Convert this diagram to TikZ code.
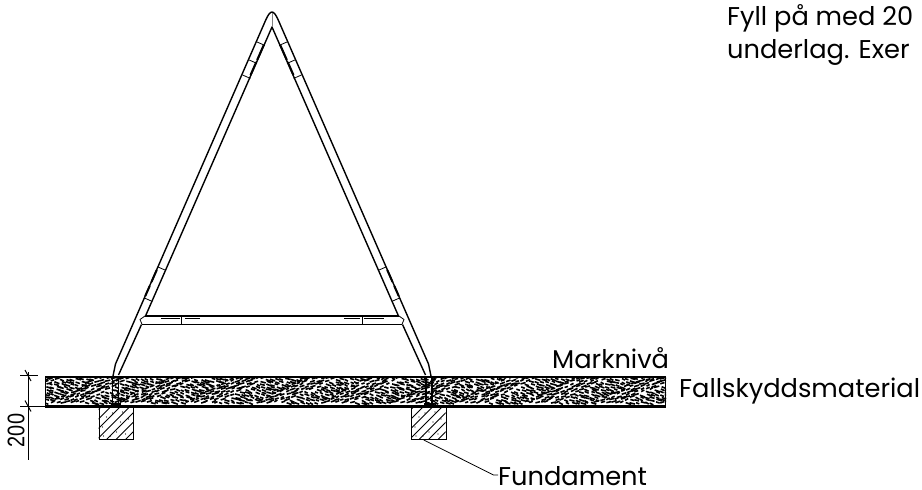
\documentclass[tikz,border=0pt]{standalone}
\usepackage{fontspec}
\setmainfont{Poppins}
\usetikzlibrary{calc}
\tikzset{
  x=1pt,y=-1pt,
  lbl/.style={inner sep=0pt,anchor=base west,font=\fontsize{25.7}{26}\selectfont},
  ln/.style={line width=1.4pt,black},
  thin ln/.style={line width=.8pt,black},
  tick/.style={line width=.8pt,black},
  thick seg/.style={line width=2pt,black},
}
\begin{document}
\begin{tikzpicture}
\useasboundingbox (0,0) rectangle (922,490);
% band
\fill[white] (45,376) rectangle (666,407);
\begin{scope}
\clip (45,376) rectangle (666,407);
\pgfmathsetseed{11}
\foreach \r in {379,381.6,...,405}{
  \foreach \c in {44,49,...,666}{
    \pgfmathsetmacro{\xa}{\c+rnd*3}
    \pgfmathsetmacro{\ya}{\r+rnd*1.6-.8}
    \pgfmathsetmacro{\dx}{3+rnd*2.5}
    \pgfmathtruncatemacro{\band}{mod(floor((\c+2*\r)/34),2)}
    \pgfmathsetmacro{\dy}{(\band==0?1:-1)*(1+rnd*1)}
    \draw[black,line width=1.6pt] (\xa,\ya) -- ++(\dx,\dy);
  }
}
\end{scope}
\fill (45,375.5) rectangle (666,378.2);
\fill (45,405) rectangle (666,407.5);
\fill (45,376) rectangle (46.3,407);
\fill (664.8,376) rectangle (666,407);
% posts
\foreach \c in {115.5,429}{
  \draw[line width=1.9pt] (\c-3,376) -- (\c-3,406);
  \draw[line width=1.9pt] (\c+3,376) -- (\c+3,406);
  \fill (\c-5,403) rectangle (\c+5,407);
}
% foundations
\foreach \xl/\nm in {98.5/fa,411/fb}{
  \node[draw,line width=1pt,minimum width=34.5pt,minimum height=32pt,inner sep=0pt,anchor=north west,fill=white] (\nm) at (\xl,407) {};
  \begin{scope}
    \clip (\xl,407) rectangle ++(34.5,32);
    \foreach \s in {-38,-28.5,...,40}{
      \draw[line width=.8pt] (\xl+\s-3,441) -- (\xl+\s+33,405);
    }
    \foreach \a/\b in {4/20,12/29,22/15,27/27,8/10,18/25,30/12,5/29,24/5,14/6}{
      \fill (\xl+\a,407+\b) circle (.6);
    }
  \end{scope}
}
% legs
\draw[ln,line join=round]
  (113,376) -- (115.5,364) -- (264,24) .. controls (268,14.5) and (270,12) .. (272,12) .. controls (274,12) and (276,14.5) .. (280,24) -- (428.5,364) -- (431,376);
\draw[ln,line join=round] (118.5,375) -- (141.5,324.5);
\draw[ln,line join=round] (145.5,316) -- (272,27) -- (398.5,316);
\draw[ln,line join=round] (402.5,324.5) -- (425.5,375);
\draw[line width=.5pt,gray] (272,13) -- (272,27);
% crossbar
\draw[line width=1.5pt] (145,316) -- (399,316);
\draw[line width=1.2pt] (142,324.3) -- (402,324.3);
\draw[line width=.8pt] (145,316) -- (140,319.5) -- (142,324.3);
\draw[line width=.8pt] (399,316) -- (404,319.5) -- (402,324.3);
\foreach \c in {181.5,362.5}{
  \draw[line width=.8pt] (\c,316) -- (\c,324);
}
\foreach \a/\b in {161/180,185/200,344/360,364/384}{
  \draw[line width=1.6pt] (\a,318.3) -- (\b,318.3);
}
% joints on legs
\foreach \y in {42,60,75,267,298}{
  \pgfmathsetmacro{\xo}{268.5-.44*(\y-16)}
  \pgfmathsetmacro{\xm}{544-\xo}
  \draw[tick] (\xo,\y) -- ++(7.8,3.4);
  \draw[tick] (\xm,\y) -- ++(-7.8,3.4);
}
% heavier stretches beside the joints
\foreach \ya/\yb in {45/60,62/75}{
  \pgfmathsetmacro{\xa}{268.5-.44*(\ya-16)+8}
  \pgfmathsetmacro{\xb}{268.5-.44*(\yb-16)+8}
  \pgfmathsetmacro{\xc}{544-\xa}
  \pgfmathsetmacro{\xd}{544-\xb}
  \draw[thick seg] (\xa,\ya) -- (\xb,\yb);
  \draw[thick seg] (\xc,\ya) -- (\xd,\yb);
}
\foreach \ya/\yb in {270/282,286/296}{
  \pgfmathsetmacro{\xa}{268.5-.44*(\ya-16)}
  \pgfmathsetmacro{\xb}{268.5-.44*(\yb-16)}
  \pgfmathsetmacro{\xc}{544-\xa}
  \pgfmathsetmacro{\xd}{544-\xb}
  \draw[thick seg] (\xa,\ya) -- (\xb,\yb);
  \draw[thick seg] (\xc,\ya) -- (\xd,\yb);
}
% dimension
\coordinate (dt) at (28,372);
\coordinate (db) at (28,460);
\draw[thin ln] (dt) -- (db);
\draw[thin ln] (20,375.5) -- (38,375.5);
\draw[thin ln] (20,406) -- (45,406);
\draw[line width=1pt] (25,370) -- (31,381);
\draw[line width=1pt] (25,400.5) -- (31,411.5);
\node[rotate=90,inner sep=0pt,font=\fontsize{24}{24}\fontspec{Liberation Sans}\selectfont] (dim) at (16,430.5) {\scalebox{.83}[1]{200}};
% texts
\node[lbl] (mark) at (552,368) {Marknivå};
\node[lbl] (fall) at (679,397) {Fallskyddsmaterial};
\node[lbl] (fund) at (498,485) {Fundament};
\node[lbl] (fy1) at (727,25) {Fyll på med 20};
\node[lbl] (fy2) at (727,58) {underlag. Exer};
\coordinate (lk) at (493.5,475);
\draw[thin ln] (fb.south) ++(-5,0) coordinate (ls) -- (lk) -- (fund.west |- lk);
\end{tikzpicture}
\end{document}
